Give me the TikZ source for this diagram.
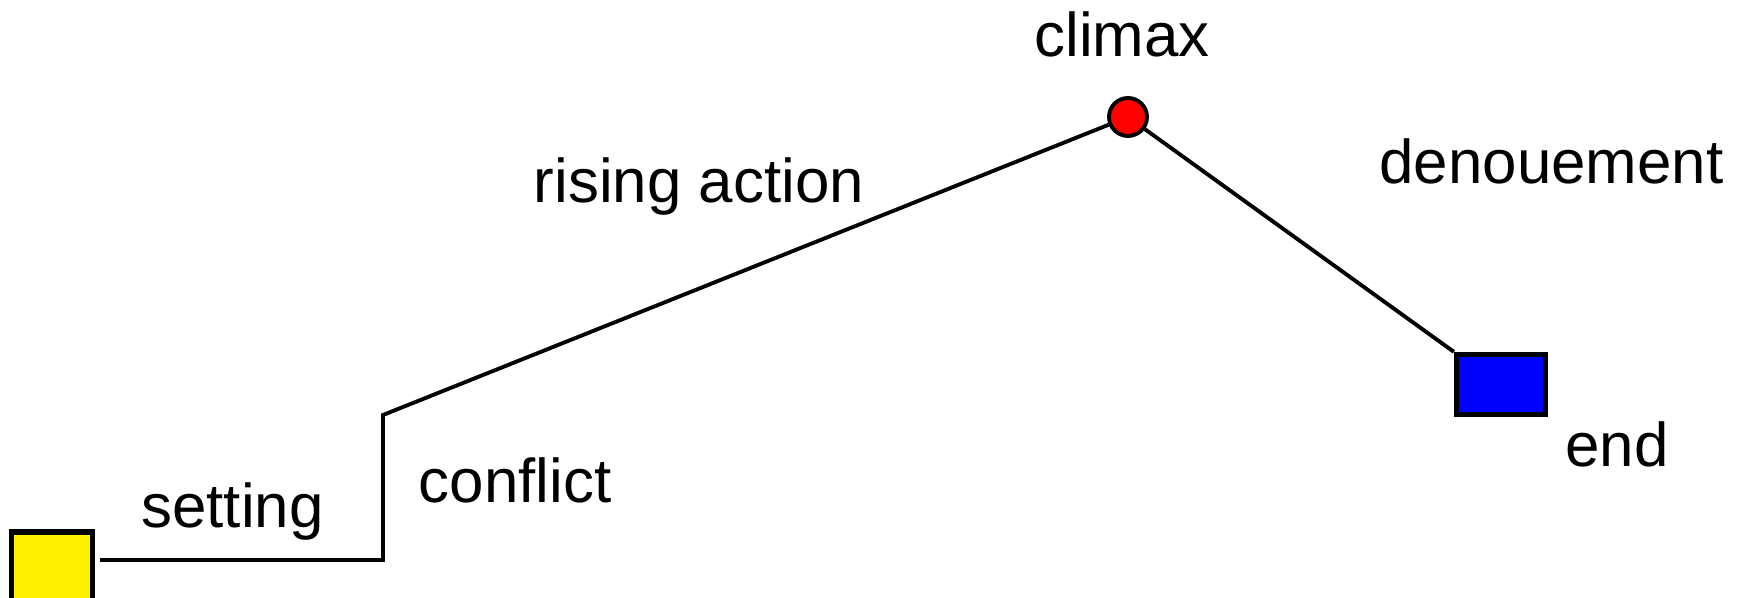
\documentclass[tikz,border=0pt]{standalone}
\usepackage{fontspec}
\setmainfont{Liberation Sans}
\usepackage{tikz}
\usetikzlibrary{calc}

\begin{document}
\begin{tikzpicture}[
        stagebox/.style={
            rectangle,
            draw,
            line width=1.5pt,
            inner sep=0pt
        },
        peak/.style={
            circle,
            draw,
            fill=red,
            line width=1.1pt,
            minimum size=0.38cm,
            inner sep=0pt
        },
        label/.style={
            anchor=base,
            inner sep=0pt,
            font=\fontsize{17.6pt}{20pt}\selectfont
        },
        plotline/.style={
            line width=1.1pt
        }
    ]

        \useasboundingbox (0,0) rectangle (17.37,5.98);

        \node[stagebox, fill=yellow, minimum width=0.81cm, minimum height=0.72cm] (start) at (0.52,0.30) {};
        \coordinate (turn) at (3.83,0.38);
        \coordinate (conflict) at (3.83,1.83);
        \node[peak] (climax) at (11.28,4.81) {};
        \node[stagebox, fill=blue, minimum width=0.89cm, minimum height=0.60cm] (end) at (15.01,2.135) {};

        \node[label] (settingtext) at (2.325,0.70) {setting};
        \node[label] (conflicttext) at (5.15,0.95) {conflict};
        \node[label] (risingtext) at (6.99,3.95) {rising action};
        \node[label] (climaxtext) at (11.22,5.41) {climax};
        \node[label] (denouementtext) at (15.515,4.14) {denouement};
        \node[label] (endtext) at (16.17,1.31) {end};

        \draw[plotline, shorten <=0.05cm] (start.east |- turn) -- (turn) -- (conflict) -- (climax);
        \draw[plotline] (climax) -- (end.north west);

    \end{tikzpicture}
\end{document}
